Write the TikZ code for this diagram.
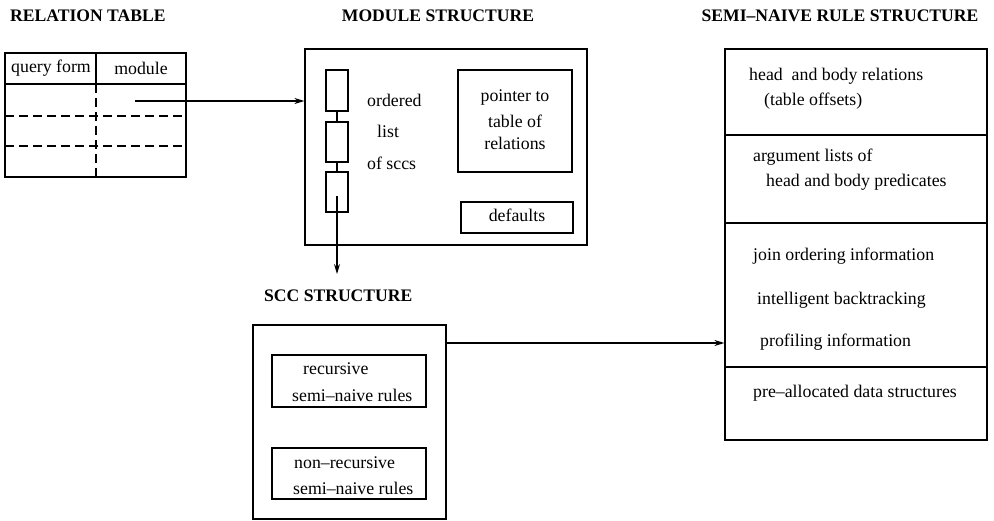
\documentclass[tikz,border=0pt]{standalone}
\usepackage{fontspec}
\setmainfont{Liberation Serif}
\usetikzlibrary{arrows.meta}
\begin{document}
\begin{tikzpicture}[x=1pt,y=-1pt,
  box/.style={draw,line width=1.2pt,inner sep=0pt,rectangle},
  txt/.style={inner sep=0pt,anchor=west,font=\fontsize{17.8}{20}\selectfont},
  ctxt/.style={inner sep=0pt,font=\fontsize{17.8}{20}\selectfont},
  ttl/.style={inner sep=0pt,font=\fontsize{17.6}{20}\selectfont\bfseries},
  conn/.style={line width=1.2pt,-{Stealth[length=10pt,width=6pt]}},
  dsh/.style={line width=1.2pt,dash pattern=on 9pt off 5pt}]
\useasboundingbox (0,0) rectangle (994,521);
% titles
\node[ttl,anchor=west] (t1) at (10,16) {RELATION TABLE};
\node[ttl] (t2) at (438,16) {MODULE STRUCTURE};
\node[ttl] (t3) at (840,16) {SEMI–NAIVE RULE STRUCTURE};
\node[ttl,anchor=west] (t4) at (264,296) {SCC STRUCTURE};
% relation table
\node[box,minimum width=181pt,minimum height=124pt] (rt) at (95.5,115) {};
\coordinate (hl) at (5,84);
\coordinate (hr) at (186,84);
\draw[line width=1.2pt] (hl) -- (hr);
\coordinate (ct) at (96,53);
\coordinate (cm) at (96,84);
\coordinate (cb) at (96,177);
\draw[line width=1.2pt] (ct) -- (cm);
\draw[dsh] (cm) -- (cb);
\coordinate (d1l) at (5,116); \coordinate (d1r) at (186,116);
\coordinate (d2l) at (5,146); \coordinate (d2r) at (186,146);
\draw[dsh] (d1l) -- (d1r);
\draw[dsh] (d2l) -- (d2r);
\node[ctxt] (qf) at (51,68) {query form};
\node[ctxt] (mo) at (141,68) {module};
% module structure
\node[box,minimum width=282pt,minimum height=196pt] (mod) at (446,147) {};
\node[box,minimum width=22pt,minimum height=41pt] (s1) at (337,90.5) {};
\node[box,minimum width=22pt,minimum height=40pt] (s2) at (337,142) {};
\node[box,minimum width=22pt,minimum height=40pt] (s3) at (337,192) {};
\draw[line width=1.2pt] (s1.south) -- (s2.north);
\draw[line width=1.2pt] (s2.south) -- (s3.north);
\node[txt] (o1) at (367,100) {ordered};
\node[txt] (o2) at (377,131) {list};
\node[txt] (o3) at (367,163) {of sccs};
\node[box,minimum width=114pt,minimum height=102pt] (ptr) at (515,121) {};
\node[ctxt] (p1) at (515,98) {pointer to};
\node[ctxt] (p2) at (515,121) {table of};
\node[ctxt] (p3) at (515,143) {relations};
\node[box,minimum width=112pt,minimum height=31pt] (def) at (517,217.5) {};
\node[ctxt] (dl) at (517,215) {defaults};
% arrow relation table -> module
\coordinate (rs) at (135,101);
\draw[conn] (rs) -- (mod.west |- rs);
% arrow scc list -> scc structure
\coordinate (sa) at (337,196);
\coordinate (sb) at (337,274);
\draw[conn] (sa) -- (sb);
% scc structure
\node[box,minimum width=193pt,minimum height=194pt] (scc) at (349.5,422) {};
\node[box,minimum width=154pt,minimum height=52pt] (rec) at (349,381) {};
\node[txt] (r1) at (303,369) {recursive};
\node[txt] (r2) at (292,395) {semi–naive rules};
\node[box,minimum width=154pt,minimum height=51pt] (nrec) at (349,473.5) {};
\node[txt] (n1) at (294,463) {non–recursive};
\node[txt] (n2) at (293,488) {semi–naive rules};
% semi-naive rule structure
\node[box,minimum width=262pt,minimum height=391pt] (snr) at (856,244.5) {};
\coordinate (e1l) at (725,135); \coordinate (e1r) at (987,135);
\coordinate (e2l) at (725,223); \coordinate (e2r) at (987,223);
\coordinate (e3l) at (725,367); \coordinate (e3r) at (987,367);
\draw[line width=1.2pt] (e1l) -- (e1r);
\draw[line width=1.2pt] (e2l) -- (e2r);
\draw[line width=1.2pt] (e3l) -- (e3r);
\node[txt] (a1) at (749,76) {head\ \ and body relations};
\node[txt] (a2) at (764,101) {(table offsets)};
\node[txt] (b1) at (753,157) {argument lists of};
\node[txt] (b2) at (766,182) {head and body predicates};
\node[txt] (c1) at (753,256) {join ordering information};
\node[txt] (c2) at (757,300) {intelligent backtracking};
\node[txt] (c3) at (760,342) {profiling information};
\node[txt] (d1) at (753,393) {pre–allocated data structures};
% arrow scc -> semi-naive
\coordinate (sc) at (446,343);
\draw[conn] (sc) -- (snr.west |- sc);
\end{tikzpicture}
\end{document}
